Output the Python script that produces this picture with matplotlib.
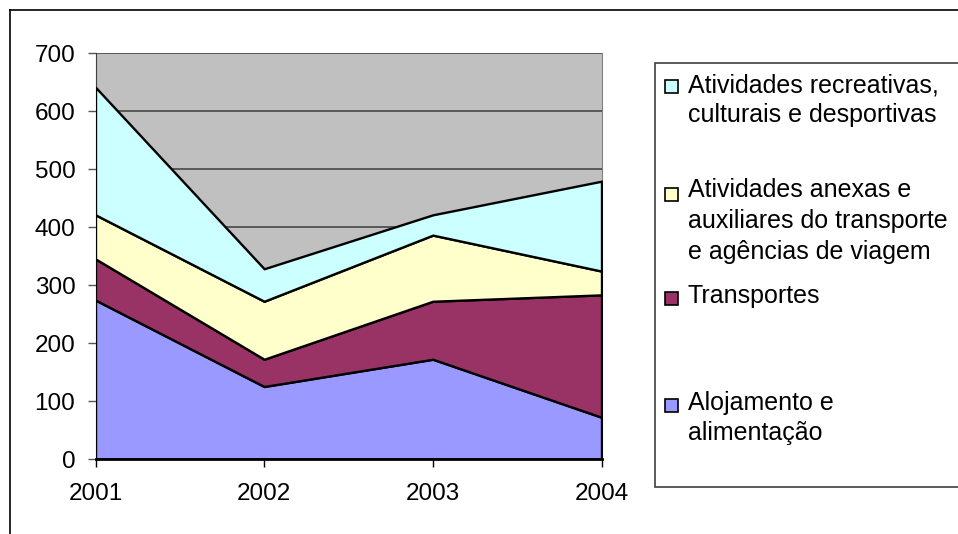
import matplotlib.pyplot as plt
from matplotlib.lines import Line2D
from matplotlib.patches import Rectangle

plt.rcParams['font.family'] = ['Liberation Sans', 'DejaVu Sans']

years = [2001, 2002, 2003, 2004]
alojamento = [274, 125, 172, 72]
transportes = [71, 47, 100, 211]
anexas = [76, 100, 114, 41]
recreativas = [220, 56, 35, 155]

colors = ['#9999FF', '#993366', '#FFFFCC', '#CCFFFF']
labels = [
    ['Alojamento e', 'alimentação'],
    ['Transportes'],
    ['Atividades anexas e', 'auxiliares do transporte', 'e agências de viagem'],
    ['Atividades recreativas,', 'culturais e desportivas'],
]

W, H = 958, 534
fig = plt.figure(figsize=(W / 100, H / 100), dpi=100)
ax = fig.add_axes([95.5 / W, (H - 459) / H, 506 / W, 406 / H])
ax.set_facecolor('#C0C0C0')

ax.stackplot(years, alojamento, transportes, anexas, recreativas,
             colors=colors, edgecolor='black', linewidth=1.7, zorder=3)

ax.set_xlim(2001, 2004)
ax.set_ylim(0, 700)
ax.set_yticks(range(0, 701, 100))
ax.set_xticks(years)
ax.grid(axis='y', color='#505050', linewidth=1.3, zorder=1)
ax.set_axisbelow(True)

ax.spines['top'].set_visible(False)
ax.spines['right'].set_color('#808080')
ax.spines['left'].set_color('#404040')
ax.spines['bottom'].set_linewidth(2)
ax.spines['bottom'].set_zorder(4)

ax.tick_params(axis='y', direction='out', length=5.5, width=1, color='#555555',
               labelsize=17.5, pad=9)
ax.tick_params(axis='x', direction='out', length=6, width=1, color='black',
               labelsize=17.5, pad=11)

# outer frame (top and left edges)
fig.add_artist(Line2D([10 / W, 1], [1 - 10 / H, 1 - 10 / H], color='black', lw=1.2))
fig.add_artist(Line2D([10 / W, 10 / W], [1 - 10 / H, 0], color='black', lw=1.2))

# legend box
fig.add_artist(Rectangle((655 / W, (H - 487) / H), (W + 5 - 655) / W, (487 - 63) / H,
                         facecolor='white', edgecolor='#404040', lw=1.2))

# legend entries: (series index, marker top y, baselines)
entries = [
    (3, 80, [92, 122]),
    (2, 188, [197, 228, 259]),
    (1, 292, [303]),
    (0, 399, [410, 440]),
]
for idx, mtop, baselines in entries:
    fig.add_artist(Rectangle((665 / W, (H - mtop - 13) / H), 13 / W, 13 / H,
                             facecolor=colors[idx], edgecolor='black', lw=1.2))
    for line, b in zip(labels[idx], baselines):
        fig.text(688 / W, (H - b) / H, line, fontsize=18, va='baseline', ha='left')

fig.savefig('out.png', dpi=100)
